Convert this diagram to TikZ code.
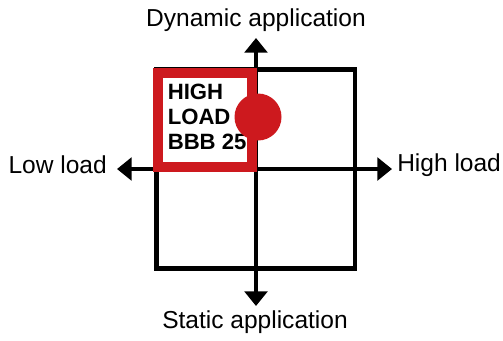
\documentclass[tikz,border=0pt]{standalone}
\usepackage{fontspec}
\setmainfont{Liberation Sans}
\usetikzlibrary{arrows.meta}
\definecolor{hired}{RGB}{205,25,30}
\begin{document}
\begin{tikzpicture}[x=0.75pt,y=-0.75pt,
  axis/.style={line width=3.4pt,-{Triangle[width=17pt,length=11pt]}},
  grid/.style={line width=3.4pt},
  lbl/.style={font=\fontsize{18.4}{21}\selectfont,inner sep=0pt},
  hl/.style={font=\fontsize{16.6}{18.5}\selectfont\bfseries,align=left,inner sep=0pt,anchor=north west}]
\useasboundingbox (0,0) rectangle (503,340);
\coordinate (C) at (256,169);
\coordinate (T) at (256,38);
\coordinate (B) at (256,306);
\coordinate (L) at (117,169);
\coordinate (R) at (392,169);
\draw[grid] (156.5,69.5) rectangle (355,268.5);
\draw[axis] (C) -- (T);
\draw[axis] (C) -- (B);
\draw[axis] (C) -- (L);
\draw[axis] (C) -- (R);
\draw[hired,line width=7.5pt,fill=white] (158,73) rectangle (252,167);
\node[hl] (txt) at (167.5,84) {HIGH\\LOAD\\BBB 25};
\fill[hired] (258,117) circle (23.5);
\node[lbl] (dyn) at (256,20) {Dynamic application};
\node[lbl] (sta) at (255,322) {Static application};
\node[lbl,anchor=east] (low) at (107,165) {Low load};
\node[lbl,anchor=west] (high) at (397,165) {High load};
\end{tikzpicture}
\end{document}
